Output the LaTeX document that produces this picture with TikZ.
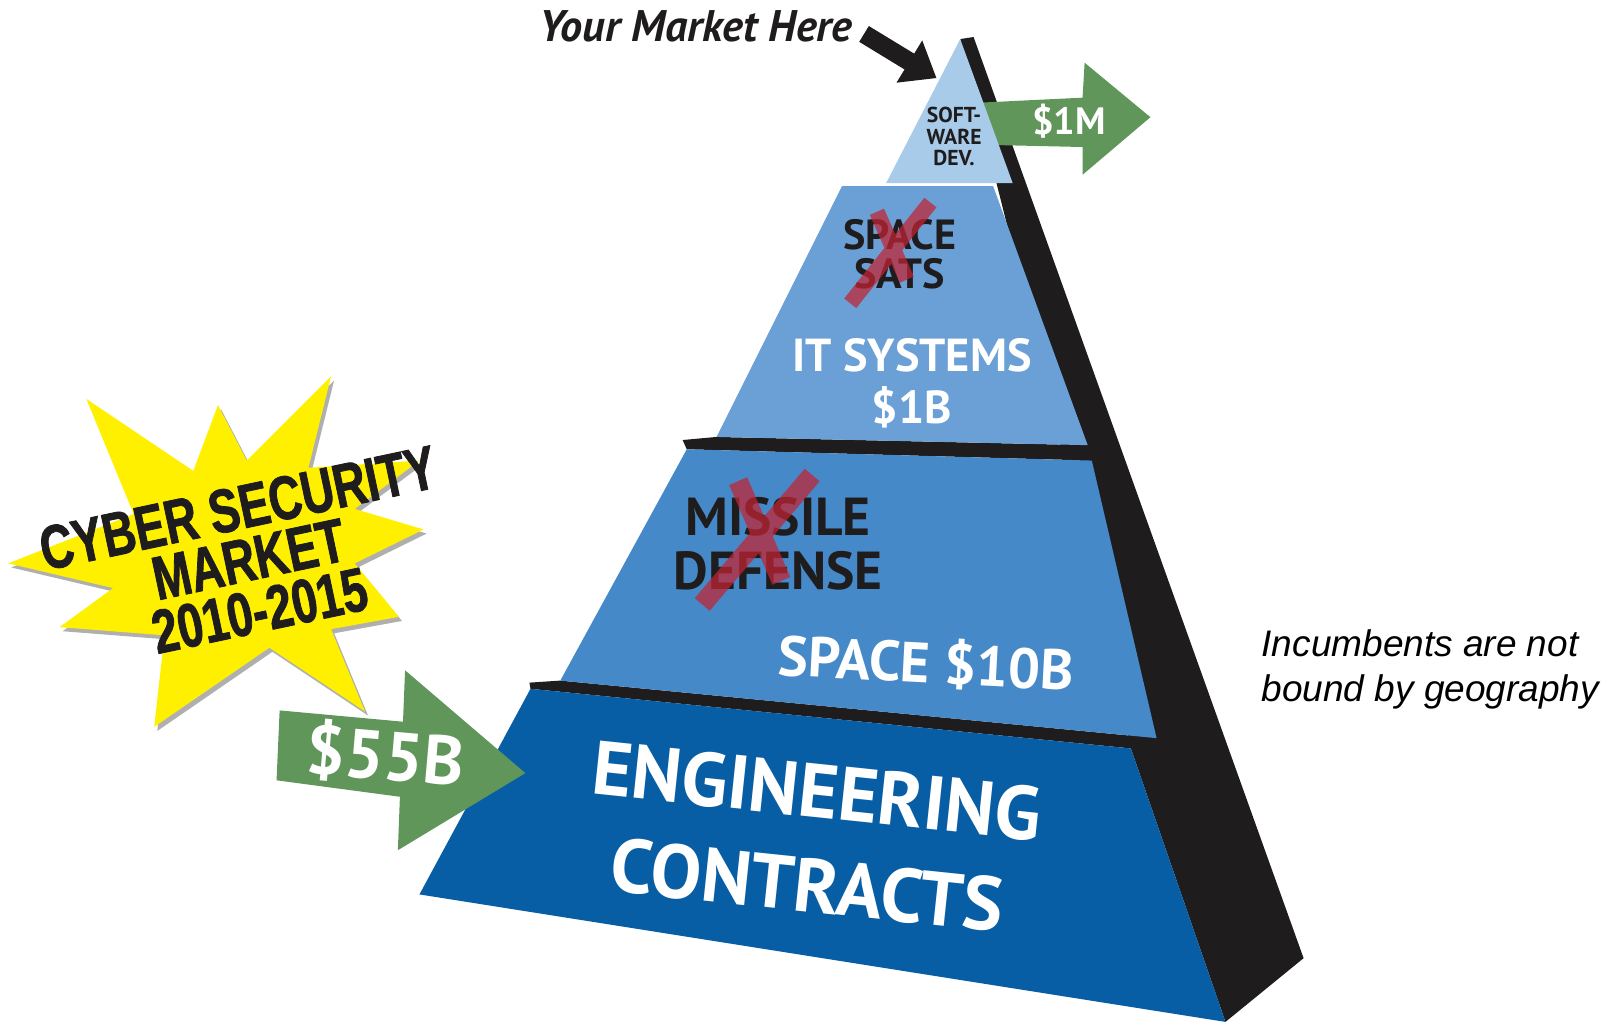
\documentclass[tikz,border=0pt]{standalone}
\usepackage{fontspec}
\setmainfont{PT Sans}
\newfontfamily\notefont{Liberation Sans}
\newfontfamily\burstfont[FakeStretch=0.74, FakeBold=1.3]{Liberation Sans}
\usetikzlibrary{arrows.meta}

\definecolor{pyrtop}{RGB}{168,203,234}
\definecolor{pyrtwo}{RGB}{106,160,214}
\definecolor{pyrthree}{RGB}{70,137,200}
\definecolor{pyrbase}{RGB}{8,94,164}
\definecolor{pyrside}{RGB}{30,28,29}
\definecolor{arrowgreen}{RGB}{96,150,90}
\definecolor{burstyellow}{RGB}{255,240,0}
\definecolor{burstshadow}{RGB}{175,175,175}
\definecolor{crossred}{RGB}{195,35,50}

\newcommand{\fsz}[2]{\fontsize{#1}{#2}\selectfont}

\begin{document}
\begin{tikzpicture}[x=1pt, y=-1pt,
		tag/.style = {inner sep=0pt, align=center, text=white, font=\bfseries},
		dark tag/.style = {tag, text=pyrside},
		cross/.style = {crossred, opacity=0.72, line width=#1},
		pointer/.style = {pyrside, line width=18pt, -{Triangle[length=31pt, width=46pt]}}]
	\useasboundingbox (0,0) rectangle (1568,994);

	% starburst with its shadow
	\def\burst{(322,366) -- (300,455) -- (408,448) -- (345,495) -- (412,515) -- (345,548)
		-- (388,600) -- (322,612) -- (355,692) -- (262,630) -- (150,707) -- (160,618)
		-- (58,610) -- (110,572) -- (8,548) -- (130,500) -- (84,388) -- (188,458)
		-- (212,394) -- (240,448) -- cycle}
	\fill[burstshadow, shift={(3,4)}] \burst;
	\fill[burstyellow] \burst;
	\node[dark tag, rotate=12, font=\burstfont\bfseries\fsz{60}{51}] (burst text) at (242,544)
		{CYBER SECURITY\\MARKET\\2010-2015};

	% dark side and ledges
	\fill[pyrside] (934,38) -- (947,36) -- (1268,932) -- (1192,994) -- (1100,728) -- (1000,300) -- cycle;
	\fill[pyrside] (664,428) -- (697,425) -- (1058,433) -- (1062,448) -- (668,437) -- cycle;
	\fill[pyrside] (515,664) -- (545,662) -- (1125,718) -- (1100,728) -- (516,670) -- cycle;

	% green arrow off the top
	\fill[arrowgreen] (950,100) -- (1053,95) -- (1055,61) -- (1119,114) -- (1053,170) -- (1053,143) -- (965,141) -- cycle;

	% faces of the pyramid
	\fill[pyrtwo] (819,181) -- (966,181) -- (1058,433) -- (697,425) -- cycle;
	\fill[pyrthree] (668,437) -- (1062,448) -- (1125,718) -- (545,662) -- cycle;
	\fill[pyrbase] (516,670) -- (1100,728) -- (1192,994) -- (408,870) -- cycle;
	\fill[pyrtop] (934,38) -- (985,178) -- (862,178) -- cycle;

	\node[dark tag, font=\bfseries\fsz{21}{21}] (soft) at (928,133) {SOFT-\\WARE\\DEV.};
	\node[tag, font=\bfseries\fsz{37}{40}] (one m) at (1040,118) {\$1M};
	\node[dark tag, font=\bfseries\fsz{41}{38}] (sats) at (875,247) {SPACE\\SATS};
	\node[tag, font=\bfseries\fsz{45}{51}] (it) at (887,373) {IT SYSTEMS\\\$1B};
	\node[dark tag, font=\bfseries\fsz{52}{53}] (missile) at (757,529) {MISSILE\\DEFENSE};
	\node[tag, rotate=-3, font=\bfseries\fsz{55}{55}] (space) at (901,645) {SPACE \$10B};
	\node[tag, rotate=-6, font=\bfseries\fsz{74}{92}] (engineering) at (790,815) {ENGINEERING\\CONTRACTS};

	% crossed out markets
	\draw[cross=15pt] (827,295) -- (905,197) (853,206) -- (882,272);
	\draw[cross=19pt] (683,588) -- (790,462) (718,468) -- (760,565);

	% green arrow into the base
	\fill[arrowgreen] (272,691) -- (392,702) -- (394,652) -- (511,752) -- (387,827) -- (389,775) -- (269,759) -- cycle;
	\node[tag, rotate=-5, font=\bfseries\fsz{67}{67}] (big) at (375,735) {\$55B};

	% market pointer
	\node[inner sep=0pt, text=pyrside, font=\bfseries\itshape\fsz{43}{43}] (market) at (677,26) {Your Market Here};
	\coordinate (market tip) at (911,76);
	\draw[pointer] ([shift={(11,7)}]market.east) -- (market tip);

	\node[inner sep=0pt, align=left, anchor=west, font=\notefont\itshape\fsz{36}{44}] (note) at (1227,651)
		{Incumbents are not\\bound by geography};
\end{tikzpicture}
\end{document}
